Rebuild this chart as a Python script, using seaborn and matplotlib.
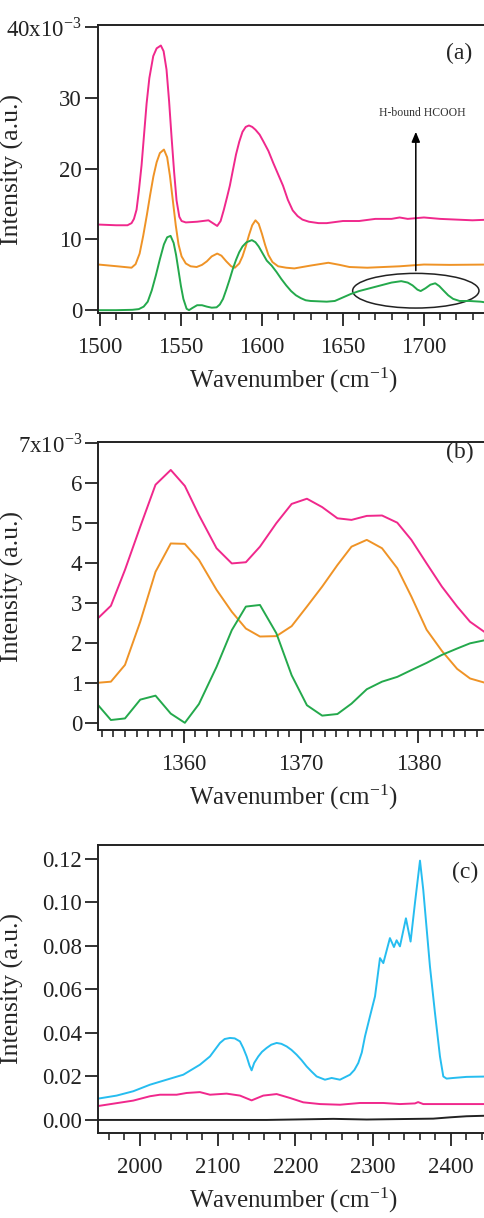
import matplotlib
matplotlib.use("Agg")
import matplotlib.pyplot as plt
import seaborn as sns
import numpy as np
import pandas as pd
from matplotlib.patches import Ellipse
from matplotlib.ticker import MultipleLocator, FixedLocator

# ---- panel (a): 1500-1740 cm-1, intensity in units of 1e-3
a_pink_x = [1499, 1510, 1517, 1519.5, 1521, 1522.6, 1524, 1525.7, 1527.3, 1528.8, 1530.5, 1532.9,
            1535, 1537.6, 1539.3, 1541.1, 1542.7, 1544.2, 1545.8, 1547.3, 1549, 1550.4, 1553,
            1560, 1567, 1572.4, 1574.5, 1576.5, 1578.5, 1580.2, 1582, 1584, 1586, 1588, 1590,
            1592, 1594, 1596, 1598.6, 1601, 1604, 1607, 1610, 1613, 1616, 1619, 1622, 1625,
            1629, 1635, 1640, 1650, 1660, 1670, 1680, 1685, 1690, 1700, 1710, 1720, 1730, 1741]
a_pink_y = [12.1, 12.0, 12.0, 12.3, 12.9, 14.2, 16.8, 20.5, 25.0, 29.2, 32.8, 35.9,
            37.0, 37.4, 36.6, 34.0, 29.5, 24.5, 19.5, 15.5, 13.2, 12.6, 12.4,
            12.5, 12.7, 11.9, 12.6, 14.2, 16.0, 17.6, 19.7, 22.0, 23.8, 25.2, 25.9,
            26.1, 25.9, 25.5, 24.8, 23.8, 22.5, 20.8, 19.2, 17.6, 15.6, 14.1, 13.3, 12.8,
            12.5, 12.3, 12.3, 12.6, 12.6, 12.9, 12.9, 13.1, 12.9, 13.1, 12.9, 12.8, 12.7, 12.8]

a_orange_x = [1499, 1510.7, 1519.5, 1522, 1524.5, 1526.7, 1529, 1531, 1533, 1535, 1537, 1539.5,
              1541.5, 1543.2, 1545, 1546.8, 1548.5, 1550.4, 1553, 1556, 1559.7, 1563, 1566,
              1569, 1572.4, 1575, 1578, 1581, 1583.3, 1586, 1588, 1590, 1592, 1594, 1596,
              1598, 1600, 1602, 1604, 1606.5, 1610, 1615, 1620, 1630, 1641, 1648, 1654,
              1665, 1685, 1700, 1716, 1741]
a_orange_y = [6.45, 6.2, 6.0, 6.5, 8.0, 10.5, 13.5, 16.3, 18.9, 20.9, 22.2, 22.7,
              21.6, 19.0, 15.5, 12.0, 9.3, 7.6, 6.6, 6.2, 6.1, 6.4, 6.9,
              7.6, 8.0, 7.7, 6.9, 6.2, 6.0, 6.6, 7.6, 9.0, 10.6, 12.0, 12.7,
              12.2, 10.8, 9.2, 7.8, 6.8, 6.2, 6.0, 5.9, 6.3, 6.7, 6.4, 6.1,
              6.0, 6.2, 6.45, 6.4, 6.45]

a_green_x = [1499, 1510, 1520, 1524, 1527, 1529.5, 1532, 1534.5, 1537, 1539.5, 1541.5, 1543.6,
             1545.5, 1547, 1548.5, 1550, 1551.5, 1553.5, 1555, 1557, 1560, 1563, 1566, 1569,
             1572, 1574, 1576, 1578, 1580, 1582, 1584, 1586, 1588, 1590.5, 1593.8, 1596,
             1598, 1600.5, 1603, 1606, 1609, 1612, 1615, 1618, 1621, 1624, 1627, 1630, 1640,
             1645, 1650, 1655, 1660, 1665, 1670, 1675, 1680, 1686, 1690, 1693, 1696, 1698,
             1701, 1704, 1707, 1709.5, 1712, 1715, 1718, 1722, 1728, 1735, 1741]
a_green_y = [0, 0, 0.05, 0.15, 0.5, 1.2, 2.8, 4.9, 7.2, 9.3, 10.3, 10.5,
             9.5, 7.8, 5.6, 3.4, 1.6, 0.2, 0.0, 0.3, 0.7, 0.7, 0.5, 0.35,
             0.4, 0.8, 1.6, 2.9, 4.3, 5.8, 7.1, 8.2, 9.0, 9.6, 9.9, 9.6,
             9.0, 8.0, 7.0, 6.3, 5.4, 4.4, 3.5, 2.7, 2.1, 1.7, 1.4, 1.3, 1.2,
             1.3, 1.8, 2.3, 2.7, 3.0, 3.3, 3.6, 3.9, 4.1, 3.9, 3.5, 2.9, 2.7,
             3.1, 3.6, 3.8, 3.4, 2.8, 2.1, 1.6, 1.3, 1.3, 1.2, 1.0]

# ---- panel (b): 1353-1386 cm-1, intensity in units of 1e-3
b_x = [1352.6, 1353.8, 1355.0, 1356.3, 1357.6, 1358.9, 1360.1, 1361.3, 1362.8, 1364.1, 1365.3,
       1366.5, 1367.9, 1369.2, 1370.5, 1371.8, 1373.1, 1374.3, 1375.6, 1376.9, 1378.2, 1379.4,
       1380.7, 1382.0, 1383.3, 1384.4, 1385.7, 1386.5]
b_pink = [2.59, 2.93, 3.83, 4.91, 5.96, 6.33, 5.93, 5.20, 4.37, 3.99, 4.02,
          4.41, 5.00, 5.48, 5.61, 5.40, 5.12, 5.08, 5.18, 5.19, 5.01, 4.58,
          3.99, 3.41, 2.91, 2.53, 2.26, 2.15]
b_orange = [1.00, 1.03, 1.45, 2.53, 3.78, 4.49, 4.48, 4.08, 3.33, 2.78, 2.36,
            2.16, 2.17, 2.42, 2.91, 3.41, 3.95, 4.41, 4.58, 4.37, 3.87, 3.16,
            2.33, 1.80, 1.35, 1.11, 1.00, 0.97]
b_green = [0.48, 0.07, 0.11, 0.58, 0.68, 0.23, 0.00, 0.47, 1.40, 2.32, 2.91,
           2.95, 2.24, 1.19, 0.44, 0.18, 0.22, 0.48, 0.84, 1.03, 1.15, 1.32,
           1.50, 1.70, 1.86, 1.99, 2.07, 2.10]

# ---- panel (c): 1950-2450 cm-1
c_blue_x = [1946, 1970, 1991.4, 2012.9, 2034.3, 2055.8, 2077.2, 2090.1, 2103, 2109, 2115.8, 2122,
            2128.7, 2133, 2137.3, 2141, 2143.7, 2147, 2152.3, 2157, 2163, 2169, 2175.9, 2182,
            2188.8, 2195, 2201.6, 2208, 2214.5, 2221, 2227.4, 2238.1, 2246.7, 2257.4, 2270.3,
            2276, 2281, 2285.5, 2289.6, 2296, 2302.5, 2308.9, 2313.2, 2321.7, 2326.9, 2330.3,
            2334.6, 2342.3, 2348.3, 2354, 2360.4, 2364.6, 2373.2, 2379.7, 2386.1, 2390.4,
            2394.6, 2403.3, 2420.4, 2451]
c_blue_y = [0.0098, 0.0112, 0.0132, 0.0162, 0.0185, 0.0208, 0.0254, 0.0292, 0.0354, 0.0372, 0.0377, 0.0375,
            0.0361, 0.0330, 0.0292, 0.0250, 0.0228, 0.0262, 0.0292, 0.0313, 0.0331, 0.0346, 0.0354, 0.0350,
            0.0338, 0.0322, 0.0300, 0.0275, 0.0246, 0.0222, 0.0200, 0.0185, 0.0193, 0.0185, 0.0208,
            0.0230, 0.0262, 0.0310, 0.0384, 0.0476, 0.0568, 0.0744, 0.0721, 0.0836, 0.0795, 0.0826,
            0.0798, 0.0927, 0.0820, 0.1000, 0.1192, 0.1058, 0.0706, 0.0491, 0.0292, 0.0200,
            0.0190, 0.0193, 0.0198, 0.0200]

c_pink_x = [1946, 1991.4, 2012.9, 2025.7, 2047.2, 2060.1, 2077.2, 2090.1, 2111.5, 2128.7, 2143.7,
            2158.7, 2175.9, 2193.1, 2210.2, 2231.7, 2257.4, 2283.1, 2313.2, 2334.6, 2353.9,
            2358, 2364.6, 2399, 2451]
c_pink_y = [0.0064, 0.0089, 0.0109, 0.0116, 0.0116, 0.0124, 0.0128, 0.0116, 0.0121, 0.0112, 0.0090,
            0.0112, 0.0119, 0.0101, 0.0081, 0.0073, 0.0070, 0.0078, 0.0078, 0.0073, 0.0076,
            0.0082, 0.0073, 0.0073, 0.0073]

c_black_x = [1946, 2163, 2248.8, 2291.7, 2356.1, 2377.5, 2399, 2420.4, 2451]
c_black_y = [0.0, 0.0, 0.0005, 0.0002, 0.0005, 0.0006, 0.0012, 0.0017, 0.0020]

PINK = "#f0288c"
ORANGE = "#ef9326"
GREEN = "#24a94c"
BLUE = "#26bdf0"

sns.set_style("ticks")
plt.rcParams["font.family"] = ["Liberation Serif", "DejaVu Serif"]
plt.rcParams["mathtext.fontset"] = "stix"

fig = plt.figure(figsize=(4.85, 12.18), dpi=100)
W = 485.0
H = 1218.0


def make_axes(top_px, bottom_px):
    left = 98 / W
    right = 490 / W
    return fig.add_axes([left, 1 - bottom_px / H, right - left, (bottom_px - top_px) / H])


def style(ax, xlim, ylim, xmaj, xmin, yticks, ylabels, label, label_xy):
    ax.set_xlim(*xlim)
    ax.set_ylim(*ylim)
    ax.xaxis.set_major_locator(MultipleLocator(xmaj))
    ax.xaxis.set_minor_locator(MultipleLocator(xmin))
    ax.yaxis.set_major_locator(FixedLocator(yticks))
    ax.set_yticklabels(ylabels)
    ax.tick_params(axis="both", which="major", direction="out", width=1.3, labelsize=16.5, colors="#222222")
    ax.tick_params(axis="x", which="major", length=9, pad=8)
    ax.tick_params(axis="y", which="major", length=9.5, pad=2)
    ax.tick_params(axis="x", which="minor", direction="out", length=5, width=1.2)
    for s in ["left", "bottom", "top"]:
        ax.spines[s].set_linewidth(1.4)
        ax.spines[s].set_color("#222222")
    ax.spines["right"].set_visible(False)
    ax.set_xlabel("Wavenumber (cm$^{\\mathregular{-1}}$)", fontsize=18, labelpad=6)
    ax.set_ylabel("Intensity (a.u.)", fontsize=18.5)
    ax.yaxis.set_label_coords(-0.19, 0.5)
    ax.text(label_xy[0], label_xy[1], label, fontsize=17, ha="center", va="center")


lw = 1.4

# (a)
ax = make_axes(25, 313)
sns.lineplot(x=a_pink_x, y=a_pink_y, ax=ax, color=PINK, lw=lw)
sns.lineplot(x=a_orange_x, y=a_orange_y, ax=ax, color=ORANGE, lw=lw)
sns.lineplot(x=a_green_x, y=a_green_y, ax=ax, color=GREEN, lw=lw)
style(ax, (1498.8, 1740.8), (-0.4, 40.3), 50, 10,
      [0, 10, 20, 30, 40], ["0", "10", "20", "30", "40x10$^{\\mathregular{-3}}$"],
      "(a)", (1722, 36.3))
ax.add_patch(Ellipse((1695, 2.75), 78, 4.9, fill=False, ec="#222222", lw=1.1))
ax.annotate("", xy=(1695, 25.6), xytext=(1695, 5.2),
            arrowprops=dict(arrowstyle="-|>,head_length=0.6,head_width=0.25", color="black", lw=1.1))
ax.text(1699, 27.8, "H-bound HCOOH", fontsize=8.5, ha="center", va="center", color="#333333")

# (b)
ax = make_axes(442, 730)
sns.lineplot(x=b_x, y=b_pink, ax=ax, color=PINK, lw=lw)
sns.lineplot(x=b_x, y=b_orange, ax=ax, color=ORANGE, lw=lw)
sns.lineplot(x=b_x, y=b_green, ax=ax, color=GREEN, lw=lw)
style(ax, (1352.7, 1386.1), (-0.18, 7.03), 10, 1,
      [0, 1, 2, 3, 4, 5, 6, 7], ["0", "1", "2", "3", "4", "5", "6", "7x10$^{\\mathregular{-3}}$"],
      "(b)", (1383.5, 6.76))

# (c)
ax = make_axes(845, 1133)
sns.lineplot(x=c_blue_x, y=c_blue_y, ax=ax, color=BLUE, lw=lw)
sns.lineplot(x=c_pink_x, y=c_pink_y, ax=ax, color=PINK, lw=lw)
sns.lineplot(x=c_black_x, y=c_black_y, ax=ax, color="#222222", lw=lw)
style(ax, (1946, 2450.5), (-0.006, 0.1264), 100, 20,
      [0, 0.02, 0.04, 0.06, 0.08, 0.10, 0.12],
      ["0.00", "0.02", "0.04", "0.06", "0.08", "0.10", "0.12"],
      "(c)", (2418, 0.1136))

fig.savefig("out.png", dpi=100)
